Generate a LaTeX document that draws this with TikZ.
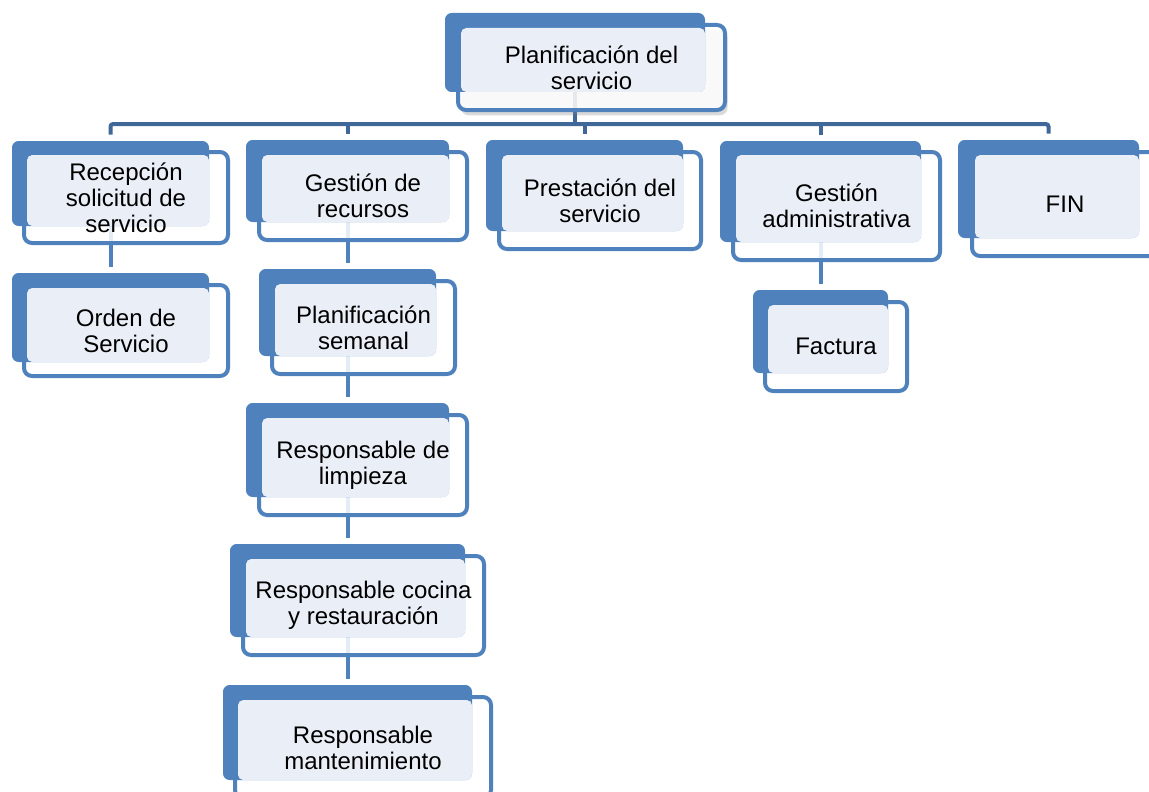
\documentclass[tikz,border=0pt]{standalone}
\usepackage{fontspec}
\setmainfont{Liberation Sans}
\usetikzlibrary{fit,backgrounds,shadows}
\definecolor{boxblue}{HTML}{4F81BD}
\definecolor{trunkblue}{HTML}{3F6797}
\definecolor{lightfill}{HTML}{EAEFF7}

\begin{document}
\begin{tikzpicture}[x=0.75pt,y=-0.75pt,
  backbox/.style={fill=boxblue, rounded corners=5pt, inner sep=0pt},
  frontbox/.style={draw=boxblue, line width=3pt, fill=white, fill opacity=0.85, rounded corners=6pt, inner sep=0pt},
  lightbox/.style={fill=lightfill, rounded corners=4pt, inner sep=0pt},
  boxtext/.style={align=center, inner sep=0pt, font=\fontsize{18}{19.5}\selectfont},
  trunkline/.style={draw=trunkblue, line width=3pt},
  branchline/.style={draw=boxblue, line width=3pt}]
\path [use as bounding box] (0,0) rectangle (1149,792);
\clip (0,0) rectangle (1149,792);
% top
\node [frontbox, drop shadow={shadow xshift=2pt, shadow yshift=-4pt, opacity=0.3}, fit={(458,25) (725,110)}] (planF) {};
\node [backbox, fit={(445,13) (705,92)}] (plan) {};
\node [lightbox, fit={(461,28) (705,92)}] {};
\node [boxtext] (planT) at (planF.center) {Planificación del\\servicio};
% first level
\node [frontbox, fit={(24,152) (228,243)}] (recepF) {};
\node [backbox, fit={(12,141) (209,226)}] (recep) {};
\node [lightbox, fit={(27,155) (209,226)}] {};
\node [boxtext] (recepT) at (recepF.center) {Recepción\\solicitud de\\servicio};
\node [frontbox, fit={(259,152) (467,240)}] (gestF) {};
\node [backbox, fit={(246,140) (449,222)}] (gest) {};
\node [lightbox, fit={(262,155) (449,222)}] {};
\node [boxtext] (gestT) at (gestF.center) {Gestión de\\recursos};
\node [frontbox, fit={(499,152) (701,249)}] (prestF) {};
\node [backbox, fit={(486,140) (683,231)}] (prest) {};
\node [lightbox, fit={(502,155) (683,231)}] {};
\node [boxtext] (prestT) at (prestF.center) {Prestación del\\servicio};
\node [frontbox, fit={(733,152) (940,260)}] (gadmF) {};
\node [backbox, fit={(720,141) (921,242)}] (gadm) {};
\node [lightbox, fit={(736,155) (921,242)}] {};
\node [boxtext] (gadmT) at (gadmF.center) {Gestión\\administrativa};
\node [frontbox, fit={(972,152) (1158,256)}] (finF) {};
\node [backbox, fit={(958,140) (1139,238)}] (fin) {};
\node [lightbox, fit={(975,155) (1139,238)}] {};
\node [boxtext] (finT) at (finF.center) {FIN};
% second level
\node [frontbox, fit={(24,285) (228,376)}] (ordenF) {};
\node [backbox, fit={(12,273) (209,362)}] (orden) {};
\node [lightbox, fit={(27,288) (209,362)}] {};
\node [boxtext] (ordenT) at (ordenF.center) {Orden de\\Servicio};
\node [frontbox, fit={(272,281) (455,374)}] (plsemF) {};
\node [backbox, fit={(259,269) (436,356)}] (plsem) {};
\node [lightbox, fit={(275,284) (436,356)}] {};
\node [boxtext] (plsemT) at (plsemF.center) {Planificación\\semanal};
\node [frontbox, fit={(259,415) (467,515)}] (limpF) {};
\node [backbox, fit={(246,403) (449,497)}] (limp) {};
\node [lightbox, fit={(262,418) (449,497)}] {};
\node [boxtext] (limpT) at (limpF.center) {Responsable de\\limpieza};
\node [frontbox, fit={(243,556) (484,655)}] (cocinaF) {};
\node [backbox, fit={(230,544) (465,637)}] (cocina) {};
\node [lightbox, fit={(246,559) (465,637)}] {};
\node [boxtext] (cocinaT) at (cocinaF.center) {Responsable cocina\\y restauración};
\node [frontbox, fit={(235,697) (491,798)}] (mantF) {};
\node [backbox, fit={(223,685) (472,780)}] (mant) {};
\node [lightbox, fit={(238,700) (472,780)}] {};
\node [boxtext] (mantT) at (mantF.center) {Responsable\\mantenimiento};
\node [frontbox, fit={(765,302) (907,391)}] (factF) {};
\node [backbox, fit={(753,290) (888,373)}] (fact) {};
\node [lightbox, fit={(768,305) (888,373)}] {};
\node [boxtext] (factT) at (factF.center) {Factura};
% connectors
\begin{scope}[on background layer]
\coordinate (bar) at (575,124);
\draw [trunkline] (plan.south) -- (plan.south |- bar);
\draw [trunkline, rounded corners=2pt] ([yshift=4.5pt]recep.north) |- (bar) -| ([yshift=4.5pt]fin.north);
\draw [trunkline] (bar -| gest.north) -- ([yshift=4.5pt]gest.north);
\draw [trunkline] (bar -| prest.north) -- ([yshift=4.5pt]prest.north);
\draw [trunkline] (bar -| gadm.north) -- ([yshift=4.5pt]gadm.north);
\draw [branchline] (recep.south) -- ([yshift=4.5pt]orden.north);
\draw [branchline] (gest.south) -- ([yshift=4.5pt]plsem.north);
\draw [branchline] (plsem.south) -- ([yshift=4.5pt]limp.north);
\draw [branchline] (limp.south) -- ([yshift=4.5pt]cocina.north);
\draw [branchline] (cocina.south) -- ([yshift=4.5pt]mant.north);
\draw [branchline] (gadm.south) -- ([yshift=4.5pt]fact.north);
\end{scope}
\end{tikzpicture}
\end{document}
